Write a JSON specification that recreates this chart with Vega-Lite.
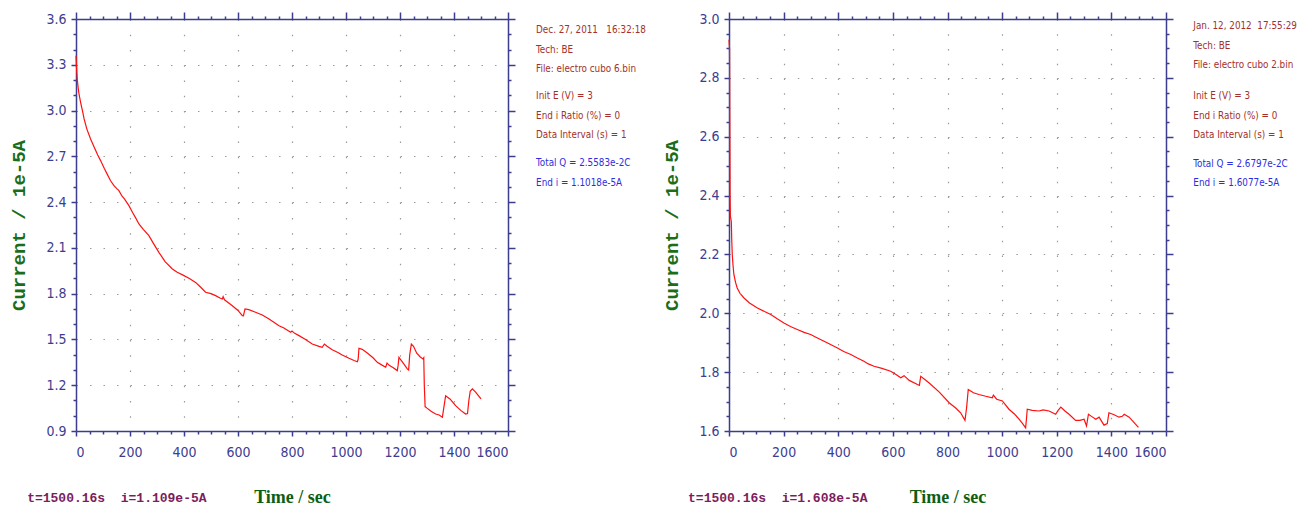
{
  "$schema": "https://vega.github.io/schema/vega-lite/v6.json",
  "background": "white",
  "padding": {"left": 9, "top": 11, "right": 0, "bottom": 0},
  "spacing": 221,
  "bounds": "flush",
  "datasets": {
    "left": [
      {"t": 0, "i": 3.36}, {"t": 2, "i": 3.28}, {"t": 5, "i": 3.196}, {"t": 10, "i": 3.12}, {"t": 17, "i": 3.054},
      {"t": 25, "i": 2.99}, {"t": 30, "i": 2.945}, {"t": 40, "i": 2.88}, {"t": 54, "i": 2.814}, {"t": 70, "i": 2.75},
      {"t": 80, "i": 2.71}, {"t": 91, "i": 2.672}, {"t": 105, "i": 2.62}, {"t": 115, "i": 2.585}, {"t": 128, "i": 2.54},
      {"t": 140, "i": 2.51}, {"t": 150, "i": 2.49}, {"t": 159, "i": 2.475}, {"t": 170, "i": 2.44}, {"t": 180, "i": 2.42},
      {"t": 196, "i": 2.377}, {"t": 210, "i": 2.33}, {"t": 220, "i": 2.3}, {"t": 233, "i": 2.257}, {"t": 250, "i": 2.22},
      {"t": 270, "i": 2.18}, {"t": 290, "i": 2.12}, {"t": 307, "i": 2.071}, {"t": 330, "i": 2.01}, {"t": 357, "i": 1.962},
      {"t": 375, "i": 1.94}, {"t": 400, "i": 1.918}, {"t": 420, "i": 1.9}, {"t": 443, "i": 1.874}, {"t": 460, "i": 1.845},
      {"t": 480, "i": 1.809}, {"t": 500, "i": 1.8}, {"t": 517, "i": 1.787}, {"t": 535, "i": 1.77}, {"t": 542, "i": 1.765},
      {"t": 545, "i": 1.78}, {"t": 550, "i": 1.76}, {"t": 579, "i": 1.721}, {"t": 600, "i": 1.69}, {"t": 616, "i": 1.656},
      {"t": 620, "i": 1.655}, {"t": 626, "i": 1.7}, {"t": 640, "i": 1.695}, {"t": 665, "i": 1.678}, {"t": 690, "i": 1.66},
      {"t": 715, "i": 1.634}, {"t": 752, "i": 1.59}, {"t": 770, "i": 1.575}, {"t": 795, "i": 1.547}, {"t": 800, "i": 1.555},
      {"t": 810, "i": 1.54}, {"t": 826, "i": 1.525}, {"t": 850, "i": 1.5}, {"t": 875, "i": 1.47}, {"t": 900, "i": 1.455},
      {"t": 912, "i": 1.449}, {"t": 920, "i": 1.47}, {"t": 930, "i": 1.455}, {"t": 949, "i": 1.433}, {"t": 970, "i": 1.415},
      {"t": 986, "i": 1.398}, {"t": 1011, "i": 1.377}, {"t": 1030, "i": 1.362}, {"t": 1042, "i": 1.354}, {"t": 1045, "i": 1.37},
      {"t": 1048, "i": 1.442}, {"t": 1060, "i": 1.435}, {"t": 1079, "i": 1.411}, {"t": 1100, "i": 1.38}, {"t": 1116, "i": 1.35},
      {"t": 1135, "i": 1.33}, {"t": 1147, "i": 1.318}, {"t": 1152, "i": 1.345}, {"t": 1160, "i": 1.33}, {"t": 1175, "i": 1.315},
      {"t": 1190, "i": 1.296}, {"t": 1193, "i": 1.33}, {"t": 1196, "i": 1.383}, {"t": 1210, "i": 1.35}, {"t": 1227, "i": 1.307},
      {"t": 1232, "i": 1.3}, {"t": 1236, "i": 1.4}, {"t": 1242, "i": 1.47}, {"t": 1250, "i": 1.455}, {"t": 1262, "i": 1.41},
      {"t": 1275, "i": 1.385}, {"t": 1285, "i": 1.372}, {"t": 1288, "i": 1.38}, {"t": 1290, "i": 1.2}, {"t": 1293, "i": 1.06},
      {"t": 1300, "i": 1.05}, {"t": 1315, "i": 1.03}, {"t": 1332, "i": 1.011}, {"t": 1345, "i": 1.005}, {"t": 1357, "i": 0.99},
      {"t": 1362, "i": 1.05}, {"t": 1369, "i": 1.131}, {"t": 1385, "i": 1.11}, {"t": 1406, "i": 1.066}, {"t": 1425, "i": 1.035},
      {"t": 1443, "i": 1.011}, {"t": 1450, "i": 1.015}, {"t": 1455, "i": 1.1}, {"t": 1460, "i": 1.16}, {"t": 1468, "i": 1.176},
      {"t": 1480, "i": 1.155}, {"t": 1500, "i": 1.11}
    ],
    "right": [
      {"t": 0, "i": 2.93}, {"t": 2, "i": 2.9}, {"t": 3, "i": 2.65}, {"t": 4, "i": 2.4}, {"t": 5, "i": 2.33},
      {"t": 8.5, "i": 2.312}, {"t": 10, "i": 2.25}, {"t": 12, "i": 2.199}, {"t": 15, "i": 2.16}, {"t": 18, "i": 2.131},
      {"t": 24, "i": 2.105}, {"t": 30, "i": 2.086}, {"t": 40, "i": 2.068}, {"t": 55, "i": 2.052}, {"t": 75, "i": 2.035},
      {"t": 104, "i": 2.018}, {"t": 130, "i": 2.006}, {"t": 153, "i": 1.996}, {"t": 175, "i": 1.982}, {"t": 201, "i": 1.967},
      {"t": 225, "i": 1.955}, {"t": 250, "i": 1.945}, {"t": 275, "i": 1.935}, {"t": 299, "i": 1.928}, {"t": 320, "i": 1.918},
      {"t": 348, "i": 1.905}, {"t": 370, "i": 1.895}, {"t": 397, "i": 1.882}, {"t": 420, "i": 1.87}, {"t": 446, "i": 1.86},
      {"t": 470, "i": 1.848}, {"t": 494, "i": 1.837}, {"t": 510, "i": 1.828}, {"t": 531, "i": 1.82}, {"t": 560, "i": 1.813},
      {"t": 592, "i": 1.803}, {"t": 610, "i": 1.793}, {"t": 629, "i": 1.781}, {"t": 641, "i": 1.788}, {"t": 660, "i": 1.772},
      {"t": 690, "i": 1.758}, {"t": 697, "i": 1.755}, {"t": 702, "i": 1.786}, {"t": 732, "i": 1.764}, {"t": 770, "i": 1.732},
      {"t": 806, "i": 1.696}, {"t": 830, "i": 1.678}, {"t": 848, "i": 1.662}, {"t": 864, "i": 1.636}, {"t": 870, "i": 1.68},
      {"t": 876, "i": 1.741}, {"t": 895, "i": 1.73}, {"t": 915, "i": 1.724}, {"t": 940, "i": 1.718}, {"t": 964, "i": 1.713},
      {"t": 968, "i": 1.722}, {"t": 980, "i": 1.708}, {"t": 1001, "i": 1.702}, {"t": 1025, "i": 1.674}, {"t": 1045, "i": 1.658},
      {"t": 1062, "i": 1.64}, {"t": 1075, "i": 1.625}, {"t": 1086, "i": 1.611}, {"t": 1089, "i": 1.64}, {"t": 1092, "i": 1.674},
      {"t": 1110, "i": 1.67}, {"t": 1135, "i": 1.668}, {"t": 1150, "i": 1.672}, {"t": 1172, "i": 1.668}, {"t": 1196, "i": 1.657},
      {"t": 1205, "i": 1.67}, {"t": 1215, "i": 1.681}, {"t": 1230, "i": 1.668}, {"t": 1245, "i": 1.657}, {"t": 1269, "i": 1.636},
      {"t": 1285, "i": 1.636}, {"t": 1300, "i": 1.64}, {"t": 1309, "i": 1.617}, {"t": 1313, "i": 1.64}, {"t": 1316, "i": 1.657},
      {"t": 1330, "i": 1.648}, {"t": 1343, "i": 1.64}, {"t": 1355, "i": 1.647}, {"t": 1373, "i": 1.62}, {"t": 1385, "i": 1.625},
      {"t": 1391, "i": 1.662}, {"t": 1410, "i": 1.655}, {"t": 1428, "i": 1.647}, {"t": 1440, "i": 1.65}, {"t": 1447, "i": 1.657},
      {"t": 1465, "i": 1.647}, {"t": 1480, "i": 1.632}, {"t": 1499, "i": 1.612}
    ]
  },
  "hconcat": [
    {
      "width": 432,
      "height": 412,
      "layer": [
        {
          "data": {"name": "left"},
          "mark": {"type": "line", "color": "#ff1010", "strokeWidth": 1.2},
          "encoding": {
            "x": {
              "field": "t", "type": "quantitative",
              "scale": {"domain": [0, 1600], "nice": false, "zero": false},
              "axis": {
                "orient": "bottom",
                "values": [0,50,100,150,200,250,300,350,400,450,500,550,600,650,700,750,800,850,900,950,1000,1050,1100,1150,1200,1250,1300,1350,1400,1450,1500,1550,1600],
                "labelExpr": "datum.value % 200 === 0 ? format(datum.value, 'd') : ''",
                "tickSize": {"condition": {"test": "datum.value % 200 === 0", "value": 5}, "value": 3},
                "labelPadding": 9,
                "grid": true,
                "gridOpacity": {"condition": {"test": "datum.value % 200 === 0", "value": 1}, "value": 0},
                "gridDash": [1.5, 13.76],
                "title": "Time / sec",
                "titleFont": "Liberation Serif",
                "titleFontWeight": "bold",
                "titleFontSize": 18,
                "titleColor": "#0d5e12",
                "titlePadding": 29
              }
            },
            "y": {
              "field": "i", "type": "quantitative",
              "scale": {"domain": [0.9, 3.6], "nice": false, "zero": false},
              "axis": {
                "orient": "left",
                "values": [0.9,1,1.1,1.2,1.3,1.4,1.5,1.6,1.7,1.8,1.9,2,2.1,2.2,2.3,2.4,2.5,2.6,2.7,2.8,2.9,3,3.1,3.2,3.3,3.4,3.5,3.6],
                "labelExpr": "round(datum.value*10) % 3 === 0 ? format(datum.value, '.1f') : ''",
                "tickSize": {"condition": {"test": "round(datum.value*10) % 3 === 0", "value": 5}, "value": 3},
                "labelPadding": 5,
                "grid": true,
                "gridOpacity": {"condition": {"test": "round(datum.value*10) % 3 === 0", "value": 1}, "value": 0},
                "gridDash": [1.5, 12],
                "title": "Current / 1e-5A",
                "titleFont": "Liberation Mono",
                "titleFontWeight": "bold",
                "titleFontSize": 19,
                "titleColor": "#1a6e1a",
                "titlePadding": 17
              }
            }
          }
        },
        {
          "data": {"values": [{}]},
          "mark": {"type": "text", "align": "left", "baseline": "top", "font": "DejaVu Sans Condensed, Liberation Sans, sans-serif", "fontSize": 9.8, "lineHeight": 19.5, "color": "#a3302a"},
          "encoding": {
            "x": {"datum": 1704, "type": "quantitative", "scale": {"domain": [0, 1600], "nice": false, "zero": false},
              "axis": {"orient": "top", "values": [0,50,100,150,200,250,300,350,400,450,500,550,600,650,700,750,800,850,900,950,1000,1050,1100,1150,1200,1250,1300,1350,1400,1450,1500,1550,1600],
                "labels": false, "grid": false, "title": null,
                "tickSize": {"condition": {"test": "datum.value % 200 === 0", "value": 7}, "value": 3}}},
            "y": {"datum": 3.56, "type": "quantitative", "scale": {"domain": [0.9, 3.6], "nice": false, "zero": false},
              "axis": {"orient": "right", "values": [0.9,1,1.1,1.2,1.3,1.4,1.5,1.6,1.7,1.8,1.9,2,2.1,2.2,2.3,2.4,2.5,2.6,2.7,2.8,2.9,3,3.1,3.2,3.3,3.4,3.5,3.6],
                "labels": false, "grid": false, "title": null,
                "tickSize": {"condition": {"test": "round(datum.value*10) % 3 === 0", "value": 7}, "value": 3}}},
            "text": {"value": ["Dec. 27, 2011\u00a0\u00a0\u00a016:32:18", "Tech: BE", "File: electro cubo 6.bin"]}
          }
        },
        {
          "data": {"values": [{}]},
          "mark": {"type": "text", "align": "left", "baseline": "top", "font": "DejaVu Sans Condensed, Liberation Sans, sans-serif", "fontSize": 9.8, "lineHeight": 19.5, "color": "#a3302a"},
          "encoding": {
            "x": {"datum": 1704, "type": "quantitative", "scale": {"domain": [0, 1600], "nice": false, "zero": false}, "axis": null},
            "y": {"datum": 3.128, "type": "quantitative", "scale": {"domain": [0.9, 3.6], "nice": false, "zero": false}, "axis": null},
            "text": {"value": ["Init E (V) = 3", "End i Ratio (%) = 0", "Data Interval (s) = 1"]}
          }
        },
        {
          "data": {"values": [{}]},
          "mark": {"type": "text", "align": "left", "baseline": "top", "font": "DejaVu Sans Condensed, Liberation Sans, sans-serif", "fontSize": 9.8, "lineHeight": 19.5, "color": "#2d2de0"},
          "encoding": {
            "x": {"datum": 1704, "type": "quantitative", "scale": {"domain": [0, 1600], "nice": false, "zero": false}, "axis": null},
            "y": {"datum": 2.689, "type": "quantitative", "scale": {"domain": [0.9, 3.6], "nice": false, "zero": false}, "axis": null},
            "text": {"value": ["Total Q = 2.5583e-2C", "End i = 1.1018e-5A"]}
          }
        },
        {
          "data": {"values": [{}]},
          "mark": {"type": "text", "align": "left", "baseline": "middle", "font": "Liberation Mono", "fontWeight": "bold", "fontSize": 13, "color": "#7c1d5c"},
          "encoding": {
            "x": {"datum": -181, "type": "quantitative", "scale": {"domain": [0, 1600], "nice": false, "zero": false}, "axis": null},
            "y": {"datum": 0.461, "type": "quantitative", "scale": {"domain": [0.9, 3.6], "nice": false, "zero": false}, "axis": null},
            "text": {"value": "t=1500.16s\u00a0\u00a0i=1.109e-5A"}
          }
        }
      ]
    },
    {
      "width": 437,
      "height": 412,
      "layer": [
        {
          "data": {"name": "right"},
          "mark": {"type": "line", "color": "#ff1010", "strokeWidth": 1.2},
          "encoding": {
            "x": {
              "field": "t", "type": "quantitative",
              "scale": {"domain": [0, 1600], "nice": false, "zero": false},
              "axis": {
                "orient": "bottom",
                "values": [0,50,100,150,200,250,300,350,400,450,500,550,600,650,700,750,800,850,900,950,1000,1050,1100,1150,1200,1250,1300,1350,1400,1450,1500,1550,1600],
                "labelExpr": "datum.value % 200 === 0 ? format(datum.value, 'd') : ''",
                "tickSize": {"condition": {"test": "datum.value % 200 === 0", "value": 5}, "value": 3},
                "labelPadding": 9,
                "grid": true,
                "gridOpacity": {"condition": {"test": "datum.value % 200 === 0", "value": 1}, "value": 0},
                "gridDash": [1.5, 13.25],
                "title": "Time / sec",
                "titleFont": "Liberation Serif",
                "titleFontWeight": "bold",
                "titleFontSize": 18,
                "titleColor": "#0d5e12",
                "titlePadding": 29
              }
            },
            "y": {
              "field": "i", "type": "quantitative",
              "scale": {"domain": [1.6, 3.0], "nice": false, "zero": false},
              "axis": {
                "orient": "left",
                "values": [1.6,1.65,1.7,1.75,1.8,1.85,1.9,1.95,2,2.05,2.1,2.15,2.2,2.25,2.3,2.35,2.4,2.45,2.5,2.55,2.6,2.65,2.7,2.75,2.8,2.85,2.9,2.95,3],
                "labelExpr": "round(datum.value*20) % 4 === 0 ? format(datum.value, '.1f') : ''",
                "tickSize": {"condition": {"test": "round(datum.value*20) % 4 === 0", "value": 5}, "value": 3},
                "labelPadding": 5,
                "grid": true,
                "gridOpacity": {"condition": {"test": "round(datum.value*20) % 4 === 0", "value": 1}, "value": 0},
                "gridDash": [1.5, 12.16],
                "title": "Current / 1e-5A",
                "titleFont": "Liberation Mono",
                "titleFontWeight": "bold",
                "titleFontSize": 19,
                "titleColor": "#1a6e1a",
                "titlePadding": 17
              }
            }
          }
        },
        {
          "data": {"values": [{}]},
          "mark": {"type": "text", "align": "left", "baseline": "top", "font": "DejaVu Sans Condensed, Liberation Sans, sans-serif", "fontSize": 9.8, "lineHeight": 19.5, "color": "#a3302a"},
          "encoding": {
            "x": {"datum": 1700, "type": "quantitative", "scale": {"domain": [0, 1600], "nice": false, "zero": false},
              "axis": {"orient": "top", "values": [0,50,100,150,200,250,300,350,400,450,500,550,600,650,700,750,800,850,900,950,1000,1050,1100,1150,1200,1250,1300,1350,1400,1450,1500,1550,1600],
                "labels": false, "grid": false, "title": null,
                "tickSize": {"condition": {"test": "datum.value % 200 === 0", "value": 7}, "value": 3}}},
            "y": {"datum": 2.993, "type": "quantitative", "scale": {"domain": [1.6, 3.0], "nice": false, "zero": false},
              "axis": {"orient": "right", "values": [1.6,1.65,1.7,1.75,1.8,1.85,1.9,1.95,2,2.05,2.1,2.15,2.2,2.25,2.3,2.35,2.4,2.45,2.5,2.55,2.6,2.65,2.7,2.75,2.8,2.85,2.9,2.95,3],
                "labels": false, "grid": false, "title": null,
                "tickSize": {"condition": {"test": "round(datum.value*20) % 4 === 0", "value": 7}, "value": 3}}},
            "text": {"value": ["Jan. 12, 2012\u00a0\u00a017:55:29", "Tech: BE", "File: electro cubo 2.bin"]}
          }
        },
        {
          "data": {"values": [{}]},
          "mark": {"type": "text", "align": "left", "baseline": "top", "font": "DejaVu Sans Condensed, Liberation Sans, sans-serif", "fontSize": 9.8, "lineHeight": 19.5, "color": "#a3302a"},
          "encoding": {
            "x": {"datum": 1700, "type": "quantitative", "scale": {"domain": [0, 1600], "nice": false, "zero": false}, "axis": null},
            "y": {"datum": 2.755, "type": "quantitative", "scale": {"domain": [1.6, 3.0], "nice": false, "zero": false}, "axis": null},
            "text": {"value": ["Init E (V) = 3", "End i Ratio (%) = 0", "Data Interval (s) = 1"]}
          }
        },
        {
          "data": {"values": [{}]},
          "mark": {"type": "text", "align": "left", "baseline": "top", "font": "DejaVu Sans Condensed, Liberation Sans, sans-serif", "fontSize": 9.8, "lineHeight": 19.5, "color": "#2d2de0"},
          "encoding": {
            "x": {"datum": 1700, "type": "quantitative", "scale": {"domain": [0, 1600], "nice": false, "zero": false}, "axis": null},
            "y": {"datum": 2.525, "type": "quantitative", "scale": {"domain": [1.6, 3.0], "nice": false, "zero": false}, "axis": null},
            "text": {"value": ["Total Q = 2.6797e-2C", "End i = 1.6077e-5A"]}
          }
        },
        {
          "data": {"values": [{}]},
          "mark": {"type": "text", "align": "left", "baseline": "middle", "font": "Liberation Mono", "fontWeight": "bold", "fontSize": 13, "color": "#7c1d5c"},
          "encoding": {
            "x": {"datum": -150, "type": "quantitative", "scale": {"domain": [0, 1600], "nice": false, "zero": false}, "axis": null},
            "y": {"datum": 1.373, "type": "quantitative", "scale": {"domain": [1.6, 3.0], "nice": false, "zero": false}, "axis": null},
            "text": {"value": "t=1500.16s\u00a0\u00a0i=1.608e-5A"}
          }
        }
      ]
    }
  ],
  "config": {
    "view": {"stroke": null},
    "axis": {
      "domainColor": "#3d3d8f",
      "domainWidth": 1.5,
      "tickColor": "#3d3d8f",
      "tickWidth": 1.5,
      "labelColor": "#3d3d8f",
      "labelFont": "DejaVu Sans Condensed, Liberation Sans, sans-serif",
      "labelFontSize": 14,
      "gridColor": "#9a9a9a",
      "gridWidth": 1.2
    }
  }
}
